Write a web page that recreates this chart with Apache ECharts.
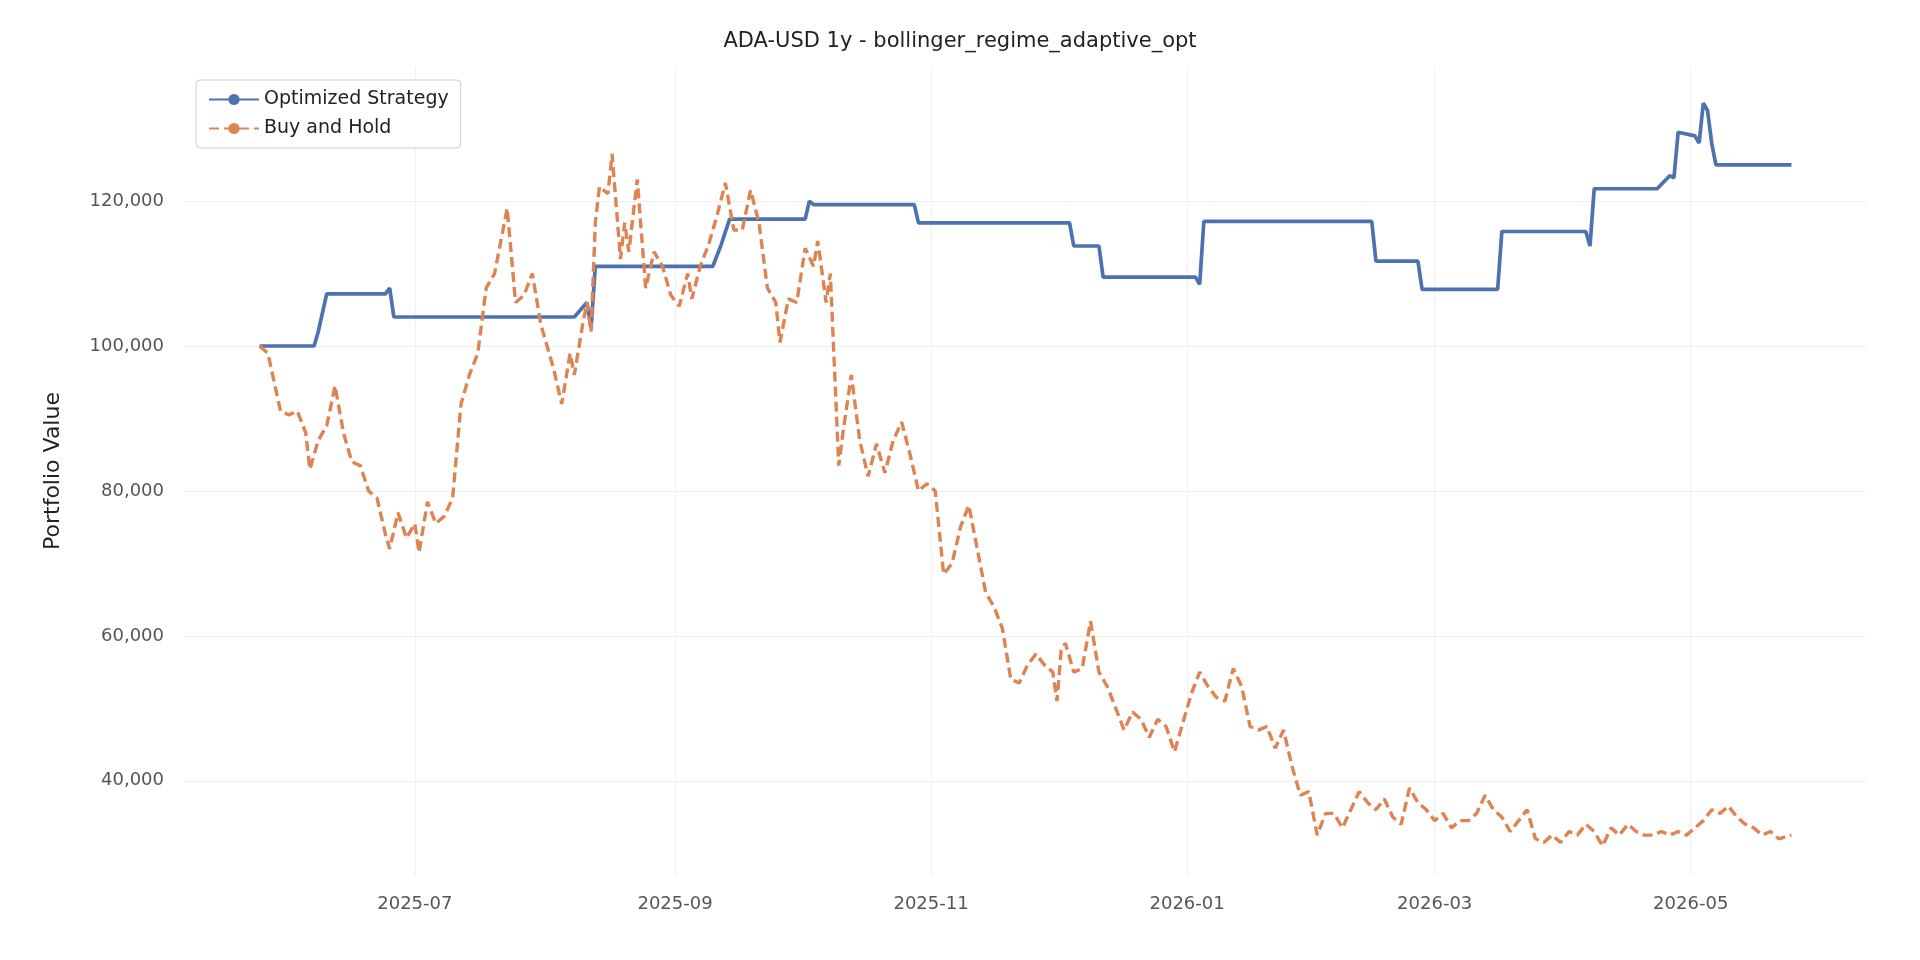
<!DOCTYPE html>
<html><head><meta charset="utf-8">
<script src="https://cdn.jsdelivr.net/npm/echarts@6/dist/echarts.min.js"></script>
<style>html,body{margin:0;padding:0;background:#fff}#c{width:1920px;height:960px}</style>
</head><body><div id="c"></div>
<script>
const titleText = "ADA-USD 1y - bollinger_regime_adaptive_opt";
const stratName = "Optimized Strategy";
const bhName = "Buy and Hold";
const stratDates = ["2025-05-25","2025-06-07","2025-06-08","2025-06-10","2025-06-24","2025-06-25","2025-06-26","2025-08-08","2025-08-11","2025-08-12","2025-08-13","2025-09-10","2025-09-12","2025-09-14","2025-10-02","2025-10-03","2025-10-04","2025-10-28","2025-10-29","2025-12-04","2025-12-05","2025-12-11","2025-12-12","2026-01-03","2026-01-04","2026-01-05","2026-02-14","2026-02-15","2026-02-25","2026-02-26","2026-03-16","2026-03-17","2026-04-06","2026-04-07","2026-04-08","2026-04-23","2026-04-26","2026-04-27","2026-04-28","2026-05-02","2026-05-03","2026-05-04","2026-05-05","2026-05-06","2026-05-07","2026-05-25"];
const stratValues = [100000,100000,102000,107200,107200,108000,104000,104000,106000,102500,111000,111000,114000,117500,117500,120000,119500,119500,117000,117000,113800,113800,109500,109500,108500,117200,117200,111700,111700,107800,107800,115800,115800,113800,121700,121700,123500,123200,129500,129000,128000,133500,132500,128000,125000,125000];
const bhDates = ["2025-05-25","2025-05-27","2025-05-30","2025-06-01","2025-06-03","2025-06-05","2025-06-06","2025-06-08","2025-06-10","2025-06-12","2025-06-14","2025-06-16","2025-06-18","2025-06-20","2025-06-22","2025-06-24","2025-06-25","2025-06-27","2025-06-29","2025-07-01","2025-07-02","2025-07-04","2025-07-06","2025-07-08","2025-07-10","2025-07-12","2025-07-14","2025-07-16","2025-07-18","2025-07-20","2025-07-22","2025-07-23","2025-07-25","2025-07-27","2025-07-29","2025-07-31","2025-08-03","2025-08-05","2025-08-07","2025-08-08","2025-08-10","2025-08-11","2025-08-12","2025-08-13","2025-08-14","2025-08-16","2025-08-17","2025-08-19","2025-08-20","2025-08-21","2025-08-23","2025-08-25","2025-08-27","2025-08-29","2025-08-31","2025-09-02","2025-09-04","2025-09-05","2025-09-07","2025-09-09","2025-09-11","2025-09-13","2025-09-15","2025-09-17","2025-09-19","2025-09-21","2025-09-23","2025-09-25","2025-09-26","2025-09-28","2025-09-30","2025-10-02","2025-10-04","2025-10-05","2025-10-07","2025-10-08","2025-10-10","2025-10-11","2025-10-13","2025-10-15","2025-10-17","2025-10-19","2025-10-21","2025-10-23","2025-10-25","2025-10-27","2025-10-29","2025-10-31","2025-11-02","2025-11-04","2025-11-06","2025-11-08","2025-11-10","2025-11-12","2025-11-14","2025-11-16","2025-11-18","2025-11-20","2025-11-22","2025-11-24","2025-11-26","2025-11-28","2025-11-30","2025-12-01","2025-12-02","2025-12-03","2025-12-05","2025-12-07","2025-12-09","2025-12-11","2025-12-13","2025-12-15","2025-12-17","2025-12-19","2025-12-21","2025-12-23","2025-12-25","2025-12-27","2025-12-29","2025-12-31","2026-01-02","2026-01-04","2026-01-06","2026-01-08","2026-01-10","2026-01-12","2026-01-14","2026-01-16","2026-01-18","2026-01-20","2026-01-22","2026-01-24","2026-01-26","2026-01-28","2026-01-30","2026-02-01","2026-02-03","2026-02-05","2026-02-07","2026-02-09","2026-02-11","2026-02-13","2026-02-15","2026-02-17","2026-02-19","2026-02-21","2026-02-23","2026-02-25","2026-02-27","2026-03-01","2026-03-03","2026-03-05","2026-03-07","2026-03-09","2026-03-11","2026-03-13","2026-03-15","2026-03-17","2026-03-19","2026-03-21","2026-03-23","2026-03-25","2026-03-27","2026-03-29","2026-03-31","2026-04-02","2026-04-04","2026-04-06","2026-04-08","2026-04-10","2026-04-12","2026-04-14","2026-04-16","2026-04-18","2026-04-20","2026-04-22","2026-04-24","2026-04-26","2026-04-28","2026-04-30","2026-05-02","2026-05-04","2026-05-06","2026-05-08","2026-05-10","2026-05-12","2026-05-14","2026-05-16","2026-05-18","2026-05-20","2026-05-22","2026-05-25"];
const bhValues = [100000,99000,91000,90500,91000,88000,83000,87000,89000,94500,88000,84000,83500,80000,79000,74000,72000,77000,73500,75500,71500,78500,75500,76500,79000,92000,96000,99000,108000,110000,116000,119000,106000,107000,110000,103000,97000,92000,99000,96000,103000,106000,102000,117000,122000,121000,126500,112000,117000,113000,123000,108000,113000,111000,107000,105500,110000,106500,111000,114000,118000,122500,116000,116000,121500,117000,108000,106000,100500,106500,106000,113500,111000,114500,106000,110000,83500,88000,96000,87000,82000,86500,82500,87000,89500,85000,80000,81000,80000,68500,70000,75000,78000,72000,66000,64000,61000,54000,53500,56000,57500,56000,55000,51000,58000,59000,55000,55500,62000,55000,53000,50000,47000,49500,48500,46000,48500,47500,44000,48000,52000,55000,53000,51500,51000,55500,53000,47500,47000,47500,44500,47000,42000,38000,38500,32500,35500,35500,33500,36000,38500,37000,36000,37500,35000,34000,39000,37000,36000,34500,35500,33500,34500,34500,35500,38000,36000,35000,33000,34500,36000,32000,31500,32500,31500,33000,32500,34000,33000,31000,33500,32500,34000,33000,32500,32500,33000,32500,33000,32500,33500,34500,36000,35500,36500,35000,34000,33500,32500,33000,32000,32500];
const yTicks = [40000,60000,80000,100000,120000];
const xTicks = ["2025-07-01","2025-09-01","2025-11-01","2026-01-01","2026-03-01","2026-05-01"];

const ts = d => new Date(d + "T00:00:00Z").getTime();
const xT = xTicks.map(ts);
const toPts = (ds, vs) => ds.map((d, i) => [ts(d), vs[i]]);
const chart = echarts.init(document.getElementById('c'));
const font = "DejaVu Sans";
chart.setOption({
  backgroundColor: '#fff',
  animation: false,
  title: { text: titleText, left: 'center', top: 26, textStyle: { fontFamily: font, fontSize: 21, fontWeight: 'normal', color: '#222' } },
  legend: {
    orient: 'vertical', left: 196, top: 80, itemWidth: 50, itemHeight: 14, itemGap: 10,
    padding: [10, 12], backgroundColor: '#fff', borderColor: '#ccc', borderWidth: 1, borderRadius: 4,
    textStyle: { fontFamily: font, fontSize: 19, color: '#222' },
    data: [stratName, bhName]
  },
  grid: { left: 184, right: 53, top: 67, bottom: 85 },
  xAxis: {
    type: 'value', min: ts("2025-05-07"), max: ts("2026-06-12"),
    axisLine: { show: false }, axisTick: { show: false, customValues: xT },
    axisLabel: { customValues: xT, fontFamily: font, fontSize: 18, color: '#555', margin: 20,
      formatter: v => { const d = new Date(v); return d.getUTCFullYear() + '-' + String(d.getUTCMonth() + 1).padStart(2, '0'); } },
    splitLine: { show: true, lineStyle: { color: '#f0f0f0', width: 1 } }
  },
  yAxis: {
    type: 'value', min: 27000, max: 138500,
    name: 'Portfolio Value', nameLocation: 'middle', nameGap: 120, nameRotate: 90,
    nameTextStyle: { fontFamily: font, fontSize: 22, color: '#222' },
    axisLine: { show: false }, axisTick: { show: false, customValues: yTicks },
    axisLabel: { customValues: yTicks, fontFamily: font, fontSize: 18, color: '#555', margin: 20 },
    splitLine: { show: true, lineStyle: { color: '#f0f0f0', width: 1 } }
  },
  series: [
    { name: stratName, type: 'line', data: toPts(stratDates, stratValues), showSymbol: false, symbol: 'none',
      lineStyle: { color: '#4c72b0', width: 3.7 }, itemStyle: { color: '#4c72b0' } },
    { name: bhName, type: 'line', data: toPts(bhDates, bhValues), showSymbol: false, symbol: 'none',
      lineStyle: { color: '#dd8452', width: 3.4, type: [10, 5] }, itemStyle: { color: '#dd8452' } }
  ]
});
</script></body></html>
